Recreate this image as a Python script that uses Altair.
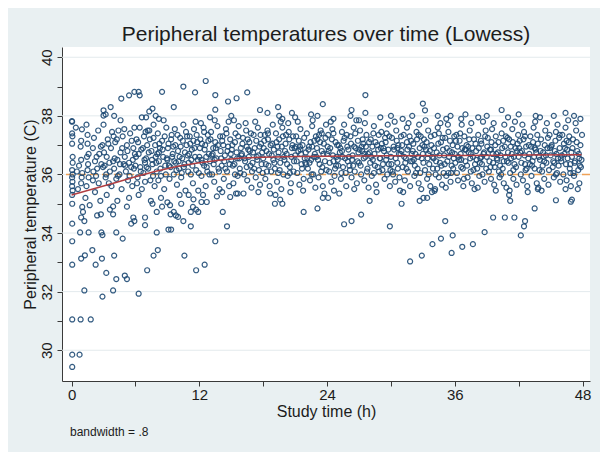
import altair as alt
import pandas as pd

# ---------------- data ----------------
# core points, hours 0-6
block_0_6 = [
    (0.05, 37.8), (0.05, 37.4), (0.08, 37.3), (0.05, 37.05), (0.1, 36.4), (0.05, 36.15), (0.1, 36.0),
    (0.05, 35.9), (0.08, 35.75), (0.05, 35.6), (0.1, 35.45), (0.05, 35.3), (0.1, 36.6),
    (0.9, 37.15), (0.85, 36.95), (0.9, 36.5), (1.0, 36.05), (0.95, 35.9), (0.9, 35.7), (0.7, 36.3),
    (0.6, 35.5), (0.5, 36.1), (0.4, 37.6), (0.97, 37.54),
    (1.4, 37.7), (1.5, 37.35), (1.5, 37.05), (1.6, 36.7), (1.45, 36.6), (1.55, 36.35), (1.5, 36.15),
    (1.6, 35.9), (1.4, 35.6), (1.3, 35.2), (1.7, 34.95),
    (2.0, 36.9), (2.1, 37.25), (2.2, 36.45), (2.3, 35.95), (2.0, 35.8), (2.4, 36.2), (2.5, 37.5),
    (2.6, 36.7), (2.2, 35.4), (2.7, 35.1), (2.8, 36.35), (2.9, 37.0), (2.4, 34.6),
    (3.0, 37.7), (3.1, 36.3), (3.2, 35.9), (3.3, 36.6), (3.4, 37.2), (3.5, 35.7), (3.3, 35.3),
    (3.6, 36.1), (3.7, 36.9), (3.8, 37.45), (3.9, 36.45), (3.6, 34.8), (3.2, 38.05),
    (4.0, 36.2), (4.1, 37.1), (4.2, 35.85), (4.3, 36.5), (4.4, 37.5), (4.5, 36.0), (4.6, 36.75),
    (4.7, 35.5), (4.8, 37.3), (4.9, 36.35), (4.3, 35.1), (4.6, 37.85),
    (5.0, 36.6), (5.1, 36.1), (5.2, 37.0), (5.3, 35.8), (5.4, 36.4), (5.5, 37.4), (5.6, 36.25),
    (5.7, 35.6), (5.8, 36.9), (5.9, 37.6), (5.4, 35.2), (5.75, 36.5), (5.2, 34.9),
]
# core points, hours 6-12
block_6_12 = [
    (6.0, 36.3), (6.1, 37.2), (6.2, 35.9), (6.3, 36.7), (6.4, 37.6), (6.5, 36.1), (6.6, 35.5),
    (6.7, 36.9), (6.8, 37.3), (6.9, 36.4), (6.3, 35.3), (6.6, 37.95), (6.9, 35.75),
    (7.0, 36.55), (7.1, 37.0), (7.2, 36.2), (7.3, 37.5), (7.4, 35.8), (7.5, 36.8), (7.6, 36.35),
    (7.7, 37.25), (7.8, 35.6), (7.9, 36.6), (7.45, 35.1), (7.7, 37.7),
    (8.0, 36.1), (8.1, 37.4), (8.2, 36.45), (8.3, 36.9), (8.4, 35.95), (8.5, 37.15), (8.6, 36.6),
    (8.7, 35.5), (8.8, 36.3), (8.9, 37.6), (8.4, 35.2), (8.65, 37.85), (8.2, 36.75),
    (9.0, 36.5), (9.1, 37.05), (9.2, 35.85), (9.3, 36.25), (9.4, 37.35), (9.5, 36.7), (9.6, 36.0),
    (9.7, 37.55), (9.8, 36.4), (9.9, 35.65), (9.25, 34.95), (9.55, 36.95),
    (10.0, 36.8), (10.1, 36.2), (10.2, 37.25), (10.3, 35.9), (10.4, 36.55), (10.5, 37.7), (10.6, 36.35),
    (10.7, 35.45), (10.8, 37.0), (10.9, 36.65), (10.35, 36.05), (10.75, 37.45), (10.15, 35.3),
    (11.0, 36.4), (11.1, 37.3), (11.2, 36.0), (11.3, 36.85), (11.4, 35.7), (11.5, 37.55), (11.6, 36.6),
    (11.7, 36.15), (11.8, 37.1), (11.9, 35.45), (11.25, 36.5), (11.65, 37.8), (11.45, 35.15),
]
# core points, hours 12-18
block_12_18 = [
    (12.0, 36.6), (12.1, 37.2), (12.2, 35.95), (12.3, 36.4), (12.4, 37.6), (12.5, 36.85), (12.6, 35.6),
    (12.7, 36.25), (12.8, 37.35), (12.9, 36.7), (12.35, 35.3), (12.55, 37.0), (12.75, 36.1), (12.15, 37.75),
    (13.0, 36.45), (13.1, 37.45), (13.2, 36.0), (13.3, 36.9), (13.4, 35.75), (13.5, 37.1), (13.6, 36.55),
    (13.7, 37.65), (13.8, 36.2), (13.9, 35.5), (13.25, 36.7), (13.65, 35.25), (13.45, 37.85),
    (14.0, 36.8), (14.1, 36.3), (14.2, 37.3), (14.3, 35.85), (14.4, 36.65), (14.5, 37.55), (14.6, 36.1),
    (14.7, 36.95), (14.8, 35.6), (14.9, 37.2), (14.35, 36.45), (14.75, 37.8), (14.15, 35.4),
    (15.0, 36.5), (15.1, 37.0), (15.2, 35.7), (15.3, 36.35), (15.4, 37.4), (15.5, 36.75), (15.6, 35.95),
    (15.7, 37.65), (15.8, 36.2), (15.9, 36.9), (15.45, 35.35), (15.25, 37.85), (15.75, 36.55),
    (16.0, 36.7), (16.1, 37.25), (16.2, 36.0), (16.3, 36.45), (16.4, 37.5), (16.5, 35.8), (16.6, 36.85),
    (16.7, 37.1), (16.8, 36.3), (16.9, 35.55), (16.35, 37.75), (16.65, 36.6), (16.15, 35.35),
    (17.0, 36.4), (17.1, 37.35), (17.2, 36.9), (17.3, 35.9), (17.4, 36.6), (17.5, 37.6), (17.6, 36.15),
    (17.7, 35.65), (17.8, 37.05), (17.9, 36.75), (17.25, 37.8), (17.55, 35.4), (17.85, 36.35),
]
# core points, hours 18-24
block_18_24 = [
    (18.0, 36.55), (18.1, 37.15), (18.2, 35.85), (18.3, 36.8), (18.4, 37.5), (18.5, 36.3), (18.6, 35.6),
    (18.7, 37.0), (18.8, 36.65), (18.9, 37.7), (18.35, 36.1), (18.65, 35.35), (18.15, 37.35),
    (19.0, 36.85), (19.1, 36.2), (19.2, 37.4), (19.3, 35.75), (19.4, 36.6), (19.5, 37.2), (19.6, 36.4),
    (19.7, 35.5), (19.8, 37.6), (19.9, 36.0), (19.35, 36.95), (19.65, 37.8), (19.15, 35.3),
    (20.0, 36.5), (20.1, 37.05), (20.2, 36.7), (20.3, 35.95), (20.4, 37.45), (20.5, 36.25), (20.6, 35.7),
    (20.7, 36.9), (20.8, 37.3), (20.9, 36.45), (20.35, 37.75), (20.55, 35.4), (20.85, 36.1),
    (21.0, 36.65), (21.1, 37.3), (21.2, 36.05), (21.3, 36.8), (21.4, 35.65), (21.5, 37.55), (21.6, 36.35),
    (21.7, 37.0), (21.8, 35.85), (21.9, 36.55), (21.25, 37.8), (21.45, 36.95), (21.75, 35.45),
    (22.0, 36.75), (22.1, 37.4), (22.2, 36.2), (22.3, 36.95), (22.4, 35.8), (22.5, 36.5), (22.6, 37.65),
    (22.7, 36.0), (22.8, 37.15), (22.9, 35.55), (22.35, 36.4), (22.65, 37.85), (22.85, 36.7),
    (23.0, 36.6), (23.1, 37.2), (23.2, 35.9), (23.3, 36.35), (23.4, 37.5), (23.5, 36.8), (23.6, 35.6),
    (23.7, 37.05), (23.8, 36.45), (23.9, 37.7), (23.45, 36.1), (23.75, 35.35), (23.25, 37.35),
]
# core points, hours 24-30
block_24_30 = [
    (24.0, 36.7), (24.1, 37.35), (24.2, 36.1), (24.3, 36.9), (24.4, 35.75), (24.5, 37.55), (24.6, 36.45),
    (24.7, 35.95), (24.8, 37.1), (24.9, 36.6), (24.35, 37.8), (24.65, 35.45), (24.85, 36.3),
    (25.0, 36.5), (25.1, 37.0), (25.2, 36.75), (25.3, 35.85), (25.4, 37.45), (25.5, 36.25), (25.6, 37.7),
    (25.7, 36.55), (25.8, 35.6), (25.9, 36.95), (25.35, 36.05), (25.65, 37.25), (25.15, 35.35),
    (26.0, 36.85), (26.1, 36.3), (26.2, 37.3), (26.3, 35.9), (26.4, 36.65), (26.5, 37.6), (26.6, 36.1),
    (26.7, 36.9), (26.8, 35.7), (26.9, 37.15), (26.35, 36.5), (26.75, 37.85), (26.55, 35.5),
    (27.0, 36.4), (27.1, 37.5), (27.2, 36.0), (27.3, 36.8), (27.4, 37.05), (27.5, 35.8), (27.6, 36.6),
    (27.7, 37.35), (27.8, 36.2), (27.9, 35.55), (27.25, 36.95), (27.55, 37.75), (27.85, 36.7),
    (28.0, 36.75), (28.1, 37.2), (28.2, 35.95), (28.3, 36.5), (28.4, 37.65), (28.5, 36.3), (28.6, 35.65),
    (28.7, 37.0), (28.8, 36.85), (28.9, 36.1), (28.35, 37.4), (28.65, 35.4), (28.15, 36.6),
    (29.0, 36.55), (29.1, 37.45), (29.2, 36.15), (29.3, 36.9), (29.4, 35.85), (29.5, 37.1), (29.6, 36.65),
    (29.7, 37.7), (29.8, 36.35), (29.9, 35.6), (29.35, 36.8), (29.65, 36.0), (29.85, 37.3),
]
# core points, hours 30-36
block_30_36 = [
    (30.0, 36.6), (30.1, 37.25), (30.2, 36.0), (30.3, 36.85), (30.4, 35.75), (30.5, 37.5), (30.6, 36.4),
    (30.7, 37.0), (30.8, 35.9), (30.9, 36.7), (30.35, 37.8), (30.65, 36.2), (30.85, 35.45),
    (31.0, 36.8), (31.1, 36.25), (31.2, 37.35), (31.3, 35.8), (31.4, 36.55), (31.5, 37.6), (31.6, 36.1),
    (31.7, 36.95), (31.8, 35.6), (31.9, 37.15), (31.35, 36.4), (31.65, 37.75), (31.15, 35.4),
    (32.0, 36.45), (32.1, 37.05), (32.2, 35.95), (32.3, 36.7), (32.4, 37.45), (32.5, 36.2), (32.6, 35.7),
    (32.7, 36.9), (32.8, 37.3), (32.9, 36.55), (32.35, 36.05), (32.65, 37.7), (32.85, 35.5),
    (33.0, 36.7), (33.1, 37.2), (33.2, 36.15), (33.3, 36.85), (33.4, 35.85), (33.5, 37.5), (33.6, 36.35),
    (33.7, 35.6), (33.8, 37.0), (33.9, 36.6), (33.25, 37.85), (33.55, 36.0), (33.85, 35.4),
    (34.0, 36.55), (34.1, 37.35), (34.2, 36.0), (34.3, 36.75), (34.4, 37.6), (34.5, 35.9), (34.6, 36.4),
    (34.7, 37.1), (34.8, 35.65), (34.9, 36.85), (34.35, 36.2), (34.65, 37.75), (34.15, 35.5),
    (35.0, 36.65), (35.1, 37.25), (35.2, 35.95), (35.3, 36.45), (35.4, 37.45), (35.5, 36.8), (35.6, 35.75),
    (35.7, 36.3), (35.8, 37.0), (35.9, 36.55), (35.35, 37.7), (35.65, 36.05), (35.15, 35.55),
]
# core points, hours 36-42
block_36_42 = [
    (36.0, 36.7), (36.1, 37.15), (36.2, 36.05), (36.3, 35.8), (36.4, 36.5), (36.5, 37.4), (36.6, 36.25),
    (36.7, 36.9), (36.8, 35.6), (36.9, 37.3), (36.35, 36.6), (36.65, 37.7), (36.85, 35.85),
    (37.0, 36.45), (37.1, 37.0), (37.2, 35.9), (37.3, 36.75), (37.4, 37.5), (37.5, 36.1), (37.6, 35.7),
    (37.7, 36.6), (37.8, 37.2), (37.9, 36.35), (37.25, 36.95), (37.55, 37.75), (37.85, 35.5),
    (38.0, 36.8), (38.1, 36.2), (38.2, 37.35), (38.3, 35.95), (38.4, 36.55), (38.5, 37.05), (38.6, 36.0),
    (38.7, 36.7), (38.8, 35.75), (38.9, 37.5), (38.35, 36.4), (38.65, 37.8), (38.15, 35.55),
    (39.0, 36.6), (39.1, 37.25), (39.2, 36.1), (39.3, 36.85), (39.4, 35.85), (39.5, 37.55), (39.6, 36.4),
    (39.7, 35.65), (39.8, 37.0), (39.9, 36.7), (39.35, 36.25), (39.65, 37.75), (39.85, 35.45),
    (40.0, 36.5), (40.1, 37.1), (40.2, 35.9), (40.3, 36.65), (40.4, 37.4), (40.5, 36.2), (40.6, 35.7),
    (40.7, 36.95), (40.8, 37.3), (40.9, 36.45), (40.35, 36.0), (40.65, 37.7), (40.85, 35.55),
    (41.0, 36.75), (41.1, 37.2), (41.2, 36.05), (41.3, 36.55), (41.4, 37.55), (41.5, 35.85), (41.6, 36.35),
    (41.7, 36.9), (41.8, 35.65), (41.9, 37.05), (41.35, 36.7), (41.65, 37.8), (41.15, 35.45),
]
# core points, hours 42-48
block_42_48 = [
    (42.0, 36.6), (42.1, 37.15), (42.2, 36.0), (42.3, 36.8), (42.4, 35.8), (42.5, 37.45), (42.6, 36.35),
    (42.7, 36.95), (42.8, 35.6), (42.9, 36.55), (42.35, 37.7), (42.65, 36.15), (42.85, 35.4),
    (43.0, 36.7), (43.1, 37.3), (43.2, 35.95), (43.3, 36.45), (43.4, 37.6), (43.5, 36.2), (43.6, 36.85),
    (43.7, 35.7), (43.8, 37.05), (43.9, 36.6), (43.25, 36.3), (43.55, 37.8), (43.85, 35.55),
    (44.0, 36.5), (44.1, 37.2), (44.2, 36.1), (44.3, 36.75), (44.4, 35.85), (44.5, 37.5), (44.6, 36.4),
    (44.7, 36.9), (44.8, 35.65), (44.9, 37.35), (44.35, 36.6), (44.65, 37.75), (44.15, 35.45),
    (45.0, 36.65), (45.1, 37.0), (45.2, 36.25), (45.3, 35.9), (45.4, 36.8), (45.5, 37.45), (45.6, 36.05),
    (45.7, 36.55), (45.8, 37.25), (45.9, 35.75), (45.35, 36.4), (45.65, 37.7), (45.85, 36.9),
    (46.0, 36.45), (46.1, 37.35), (46.2, 36.0), (46.3, 36.7), (46.4, 37.6), (46.5, 35.8), (46.6, 36.55),
    (46.7, 37.1), (46.8, 36.2), (46.9, 35.6), (46.35, 36.9), (46.65, 37.85), (46.85, 36.35),
    (47.0, 36.6), (47.1, 37.2), (47.2, 35.95), (47.3, 36.45), (47.4, 37.5), (47.5, 36.8), (47.6, 36.15),
    (47.7, 35.7), (47.8, 37.0), (47.9, 36.5), (47.35, 37.75), (47.55, 35.5), (47.75, 36.3),
]
# extra points in the dense middle band
dense_0_12 = [
    (2.05, 36.1), (2.35, 36.6), (2.55, 35.7), (2.75, 36.95), (2.95, 36.25),
    (3.05, 36.75), (3.25, 36.0), (3.45, 37.05), (3.55, 36.4), (3.75, 35.6), (3.95, 37.3),
    (4.05, 36.55), (4.25, 37.2), (4.35, 35.95), (4.55, 36.35), (4.75, 36.9), (4.95, 37.55),
    (5.05, 36.3), (5.25, 36.8), (5.45, 35.95), (5.65, 37.15), (5.85, 36.2), (5.95, 36.7),
    (6.05, 36.6), (6.25, 37.1), (6.45, 36.25), (6.55, 36.85), (6.75, 36.05), (6.95, 37.45), (6.15, 35.7), (6.85, 36.5),
    (7.05, 36.25), (7.25, 36.75), (7.35, 37.2), (7.55, 36.5), (7.65, 35.95), (7.85, 37.0), (7.95, 36.4), (7.15, 37.5),
    (8.05, 36.7), (8.25, 37.05), (8.35, 36.2), (8.55, 36.85), (8.75, 37.3), (8.85, 36.0), (8.95, 36.55), (8.15, 35.8),
    (9.05, 36.9), (9.15, 36.3), (9.35, 37.2), (9.45, 36.6), (9.65, 36.45), (9.75, 37.0), (9.85, 36.15), (9.95, 37.35),
    (10.05, 36.45), (10.25, 36.95), (10.45, 37.15), (10.55, 36.25), (10.65, 36.75), (10.85, 37.3), (10.95, 36.1), (10.15, 36.6),
    (11.05, 36.7), (11.15, 37.05), (11.35, 36.3), (11.55, 36.9), (11.75, 37.35), (11.85, 36.5), (11.95, 36.05), (11.45, 37.15),
]
dense_12_24 = [
    (12.05, 36.9), (12.25, 37.05), (12.45, 36.3), (12.65, 36.6), (12.85, 37.15), (12.95, 36.0), (12.45, 37.45), (12.2, 36.5),
    (13.05, 37.2), (13.15, 36.65), (13.35, 36.35), (13.55, 36.9), (13.75, 37.0), (13.85, 36.1), (13.95, 37.3), (13.45, 36.5),
    (14.05, 36.55), (14.25, 37.0), (14.45, 36.2), (14.55, 37.4), (14.65, 36.8), (14.85, 36.35), (14.95, 36.7), (14.15, 37.15),
    (15.05, 36.85), (15.15, 36.3), (15.35, 37.1), (15.55, 36.55), (15.65, 37.3), (15.85, 36.05), (15.95, 36.65), (15.35, 36.0),
    (16.05, 37.05), (16.25, 36.55), (16.45, 36.25), (16.55, 37.2), (16.75, 36.8), (16.85, 37.4), (16.95, 36.1), (16.45, 36.95),
    (17.05, 36.75), (17.15, 36.2), (17.35, 37.15), (17.45, 36.5), (17.65, 36.95), (17.75, 37.35), (17.95, 36.05), (17.55, 36.65),
    (18.05, 36.9), (18.25, 36.35), (18.45, 37.2), (18.55, 36.7), (18.75, 36.1), (18.85, 37.05), (18.95, 36.5), (18.45, 37.4),
    (19.05, 36.4), (19.25, 37.1), (19.45, 36.75), (19.55, 36.15), (19.75, 36.95), (19.85, 37.3), (19.95, 36.6), (19.4, 36.05),
    (20.05, 36.8), (20.25, 36.35), (20.45, 37.2), (20.65, 36.6), (20.75, 37.0), (20.95, 36.9), (20.15, 37.35), (20.5, 36.05),
    (21.05, 36.95), (21.15, 36.45), (21.35, 37.15), (21.55, 36.7), (21.65, 36.2), (21.85, 37.25), (21.95, 36.4), (21.5, 36.85),
    (22.05, 36.35), (22.25, 36.85), (22.45, 37.1), (22.55, 36.0), (22.75, 36.6), (22.95, 37.3), (22.15, 36.55), (22.6, 36.95),
    (23.05, 36.9), (23.15, 36.5), (23.35, 37.1), (23.55, 36.25), (23.65, 36.7), (23.85, 37.25), (23.95, 36.15), (23.5, 37.4),
]
dense_24_36 = [
    (24.05, 36.95), (24.25, 36.4), (24.45, 37.2), (24.55, 36.65), (24.75, 36.2), (24.95, 37.0), (24.15, 36.8), (24.6, 37.4),
    (25.05, 36.3), (25.25, 36.9), (25.45, 36.6), (25.55, 37.15), (25.75, 36.05), (25.85, 37.35), (25.95, 36.45), (25.4, 36.8),
    (26.05, 36.6), (26.25, 37.05), (26.45, 36.3), (26.55, 36.95), (26.65, 37.4), (26.85, 36.45), (26.95, 36.75), (26.15, 36.15),
    (27.05, 36.85), (27.15, 36.3), (27.35, 37.2), (27.45, 36.55), (27.65, 36.95), (27.75, 36.1), (27.95, 37.1), (27.5, 36.7),
    (28.05, 36.4), (28.25, 36.95), (28.45, 36.7), (28.55, 37.1), (28.75, 36.25), (28.85, 37.35), (28.95, 36.55), (28.4, 36.05),
    (29.05, 36.9), (29.25, 36.35), (29.45, 37.25), (29.55, 36.5), (29.75, 36.85), (29.95, 36.15), (29.15, 37.05), (29.6, 37.4),
    (30.05, 36.35), (30.25, 36.95), (30.45, 36.55), (30.55, 37.15), (30.75, 36.7), (30.95, 37.3), (30.15, 36.1), (30.6, 36.9),
    (31.05, 37.0), (31.25, 36.6), (31.45, 36.2), (31.55, 36.85), (31.75, 37.3), (31.85, 36.45), (31.95, 36.7), (31.5, 37.1),
    (32.05, 36.8), (32.25, 36.3), (32.45, 37.2), (32.55, 36.6), (32.75, 36.05), (32.95, 37.0), (32.15, 36.5), (32.6, 37.35),
    (33.05, 36.4), (33.15, 36.95), (33.35, 37.1), (33.45, 36.55), (33.65, 36.8), (33.75, 37.3), (33.95, 36.2), (33.5, 36.7),
    (34.05, 36.9), (34.25, 36.45), (34.45, 37.05), (34.55, 36.65), (34.75, 36.3), (34.85, 37.25), (34.95, 36.05), (34.5, 37.4),
    (35.05, 36.35), (35.25, 36.9), (35.45, 36.6), (35.55, 37.15), (35.75, 36.75), (35.85, 36.2), (35.95, 37.3), (35.4, 36.05),
]
dense_36_48 = [
    (36.05, 36.4), (36.25, 36.95), (36.45, 37.15), (36.55, 36.7), (36.75, 36.2), (36.95, 36.85), (36.15, 37.35), (36.6, 36.5),
    (37.05, 36.85), (37.15, 36.3), (37.35, 37.2), (37.45, 36.55), (37.65, 36.9), (37.75, 36.15), (37.95, 37.05), (37.5, 36.7),
    (38.05, 36.5), (38.25, 36.9), (38.45, 37.15), (38.55, 36.35), (38.75, 36.75), (38.85, 37.3), (38.95, 36.2), (38.5, 36.6),
    (39.05, 36.95), (39.25, 36.45), (39.45, 37.1), (39.55, 36.7), (39.75, 36.25), (39.85, 37.3), (39.95, 36.55), (39.4, 36.85),
    (40.05, 36.75), (40.25, 36.3), (40.45, 36.9), (40.55, 37.15), (40.75, 36.6), (40.95, 37.25), (40.15, 36.1), (40.6, 36.45),
    (41.05, 36.4), (41.25, 36.95), (41.45, 37.1), (41.55, 36.6), (41.75, 36.25), (41.85, 36.8), (41.95, 37.35), (41.5, 36.15),
    (42.05, 36.9), (42.25, 36.4), (42.45, 37.2), (42.55, 36.65), (42.75, 36.2), (42.95, 37.0), (42.15, 36.75), (42.6, 37.3),
    (43.05, 36.35), (43.15, 36.95), (43.35, 37.1), (43.45, 36.6), (43.65, 36.75), (43.75, 37.35), (43.95, 36.15), (43.5, 36.9),
    (44.05, 36.8), (44.25, 36.3), (44.45, 37.0), (44.55, 36.65), (44.75, 37.25), (44.85, 36.15), (44.95, 36.9), (44.4, 36.45),
    (45.05, 36.95), (45.25, 36.45), (45.45, 37.15), (45.55, 36.7), (45.75, 36.3), (45.85, 37.35), (45.95, 36.55), (45.5, 36.0),
    (46.05, 36.65), (46.25, 37.05), (46.45, 36.35), (46.55, 36.85), (46.75, 37.3), (46.85, 36.05), (46.95, 36.75), (46.5, 37.15),
    (47.05, 36.9), (47.25, 36.4), (47.45, 37.1), (47.65, 36.7), (47.85, 36.25), (47.95, 37.35), (47.15, 36.05), (47.7, 36.55),
]
# low readings, first half of the study
low_early = [
    (0.06, 29.43), (0.06, 29.85), (0.75, 29.85), (0.06, 31.05), (0.85, 31.05), (1.8, 31.05),
    (1.2, 32.04), (3.9, 32.04), (2.9, 31.83), (6.3, 31.93), (0.06, 32.92), (0.9, 33.13),
    (1.25, 33.24), (1.95, 33.42), (2.26, 32.92), (2.85, 33.13), (3.26, 32.64), (4.0, 33.23),
    (4.2, 32.43), (5.0, 32.55), (5.2, 32.43), (7.1, 32.73), (7.7, 33.23), (8.1, 33.42),
    (10.6, 33.23), (11.7, 32.73), (12.5, 32.92), (13.5, 33.72), (14.6, 34.23), (0.06, 33.72),
    (0.06, 34.32), (0.8, 34.02), (1.6, 34.02), (2.8, 34.02), (2.9, 33.93), (4.2, 34.02),
    (4.8, 33.81), (8.0, 34.02), (9.1, 34.12), (9.35, 34.12), (5.6, 34.32), (5.9, 34.41),
    (6.9, 34.27), (6.9, 34.53), (11.2, 34.23), (1.0, 34.89), (1.07, 34.72), (0.9, 34.53),
    (1.2, 34.41), (0.06, 35.0), (2.75, 34.64), (3.9, 34.64), (3.9, 34.91), (5.8, 34.53),
    (8.0, 34.72), (9.3, 34.64), (9.6, 34.72), (10.0, 34.55), (10.5, 34.41), (11.2, 34.72),
    (11.4, 34.89), (11.7, 34.8), (11.9, 34.72), (14.2, 34.72), (12.2, 35.06), (12.7, 35.06),
    (14.9, 35.23), (15.6, 35.35), (7.6, 35.0), (8.5, 34.9), (9.0, 35.05), (9.8, 34.6),
    (10.3, 35.0), (11.0, 35.3),
]
# low readings, second half of the study
low_late = [
    (19.1, 35.0), (19.8, 35.0), (19.6, 35.14), (21.8, 34.72), (23.1, 34.84), (25.6, 34.3),
    (26.3, 34.41), (27.2, 34.63), (29.9, 34.23), (31.0, 35.0), (31.8, 33.03), (32.9, 33.23),
    (33.9, 33.62), (34.7, 33.81), (35.1, 34.41), (35.7, 33.32), (35.8, 33.92), (36.7, 33.53),
    (37.7, 33.62), (38.8, 34.03), (39.6, 34.53), (40.7, 34.53), (41.6, 34.53), (42.2, 33.92),
    (42.5, 34.23), (42.6, 34.41), (43.5, 34.84), (45.5, 35.12), (46.9, 35.07), (32.7, 35.1),
    (41.2, 35.1), (47.0, 35.14), (43.8, 35.5), (41.1, 35.3), (33.05, 35.2), (33.4, 35.2),
    (34.1, 35.44), (28.0, 35.1), (23.6, 35.2), (24.1, 35.2), (46.4, 35.5),
]
# high readings
high_pts = [
    (0.03, 37.82), (3.0, 38.19), (3.0, 38.01), (3.67, 38.3), (4.0, 38.0), (4.67, 38.59), (5.4, 38.7),
    (5.9, 38.82), (6.3, 38.82), (6.4, 38.7), (7.0, 37.95), (7.3, 38.15), (7.6, 38.25), (7.9, 38.0),
    (8.2, 37.9), (8.5, 38.82), (9.6, 38.3), (10.5, 39.0), (11.6, 38.8), (12.6, 39.19), (13.5, 38.71),
    (13.5, 38.21), (14.7, 38.49), (15.5, 38.6), (16.5, 38.8), (17.7, 38.2), (18.4, 38.1), (19.4, 38.3),
    (19.5, 38.0), (19.8, 37.9), (20.7, 38.1), (23.6, 38.4), (23.1, 38.0), (24.6, 37.9), (26.3, 38.2),
    (26.2, 38.0), (27.6, 38.71), (27.6, 38.1), (27.0, 37.85), (31.1, 37.9), (32.0, 38.0), (33.0, 38.42),
    (33.2, 38.19), (34.4, 38.0), (35.2, 37.9), (35.6, 38.0), (36.6, 37.9), (40.4, 38.2), (43.6, 38.0),
    (45.3, 38.0), (46.4, 38.1), (13.0, 37.95), (15.0, 38.0), (21.0, 37.95), (22.5, 38.05), (29.0, 37.95),
    (30.0, 38.0), (37.0, 38.05), (38.2, 37.95), (39.0, 38.0), (41.0, 37.95), (42.0, 38.05), (44.0, 37.95),
    (47.2, 38.0), (47.8, 37.9),
]
# lowess (bandwidth .8) curve as drawn
lowess_hours = [0, 2, 4, 6, 8, 10, 12, 14, 16, 18, 21, 24, 30, 36, 42, 47.9]
lowess_temps = [35.3, 35.5, 35.71, 35.92, 36.12, 36.28, 36.4, 36.49, 36.56, 36.59, 36.61, 36.62, 36.64, 36.65, 36.66, 36.67]

x_ticks = [0, 6, 12, 18, 24, 30, 36, 42, 48]
y_ticks = [30, 31, 32, 33, 34, 35, 36, 37, 38, 39, 40]
grid_temps = [30, 32, 34, 36, 38, 40]
reference_temp = [36]
note_text = ["bandwidth = .8"]

# ---------------- tables ----------------
all_pts = (block_0_6 + block_6_12 + block_12_18 + block_18_24 + block_24_30
           + block_30_36 + block_36_42 + block_42_48
           + dense_0_12 + dense_12_24 + dense_24_36 + dense_36_48
           + low_early + low_late + high_pts)
points = pd.DataFrame(all_pts, columns=["hours", "temp"])
lowess = pd.DataFrame({"hours": lowess_hours, "temp": lowess_temps})
grid = pd.DataFrame({"temp": grid_temps})
ref = pd.DataFrame({"temp": reference_temp})
note = pd.DataFrame({"note": note_text})

FONT = "Liberation Sans"
INK = "#1c1c1c"
AX = "#3a3a3a"

x_enc = alt.X(
    "hours:Q",
    scale=alt.Scale(domain=[-0.9, 48.7], nice=False, zero=False),
    axis=alt.Axis(
        values=x_ticks, labelExpr="datum.value % 12 == 0 ? datum.label : ''",
        title="Study time (h)", grid=False, domainColor=AX, tickColor=AX, tickSize=5,
        labelFont=FONT, labelFontSize=15, labelColor=INK, labelPadding=1,
        labelFlush=False, labelOverlap=False,
        titleFont=FONT, titleFontSize=16, titleFontWeight="normal", titleColor=INK, titlePadding=1,
    ),
)
y_enc = alt.Y(
    "temp:Q",
    scale=alt.Scale(domain=[28.95, 40.35], nice=False, zero=False),
    axis=alt.Axis(
        values=y_ticks, labelExpr="datum.value % 2 == 0 ? datum.label : ''",
        title="Peripheral temperature (C)", grid=False, domainColor=AX, tickColor=AX, tickSize=5,
        labelFont=FONT, labelFontSize=15, labelColor=INK, labelAngle=270,
        labelAlign="center", labelBaseline="alphabetic", labelPadding=6,
        labelFlush=False, labelOverlap=False,
        titleFont=FONT, titleFontSize=16, titleFontWeight="normal", titleColor=INK, titlePadding=1,
    ),
)

grid_layer = alt.Chart(grid).mark_rule(color="#e3eaed", strokeWidth=1).encode(y=y_enc)
ref_layer = alt.Chart(ref).mark_rule(color="#f0a257", strokeWidth=1.4, strokeDash=[8, 4]).encode(y=y_enc)
pts_layer = alt.Chart(points).mark_point(
    shape="circle", filled=False, size=25, strokeWidth=1.2, color="#1f4b75", opacity=0.9
).encode(x=x_enc, y=y_enc)
lowess_layer = alt.Chart(lowess).mark_line(color="#b03e42", strokeWidth=1.5).encode(x=x_enc, y=y_enc)
note_layer = alt.Chart(note).mark_text(
    align="left", baseline="alphabetic", font=FONT, fontSize=12, color=INK
).encode(x=alt.value(8), y=alt.value(389), text="note:N")

chart = alt.layer(grid_layer, ref_layer, pts_layer, lowess_layer, note_layer).properties(
    width=528,
    height=334,
    autosize=alt.AutoSizeParams(type="none"),
    padding={"left": 54, "top": 39, "right": 10, "bottom": 71},
    title=alt.TitleParams(
        "Peripheral temperatures over time (Lowess)", font=FONT, fontSize=21,
        fontWeight="normal", color=INK, anchor="middle", offset=2,
    ),
).configure(background="#e9f0f2").configure_view(fill="white", strokeWidth=0)

chart.save("out.html", embed_options={"renderer": "svg", "actions": False})
